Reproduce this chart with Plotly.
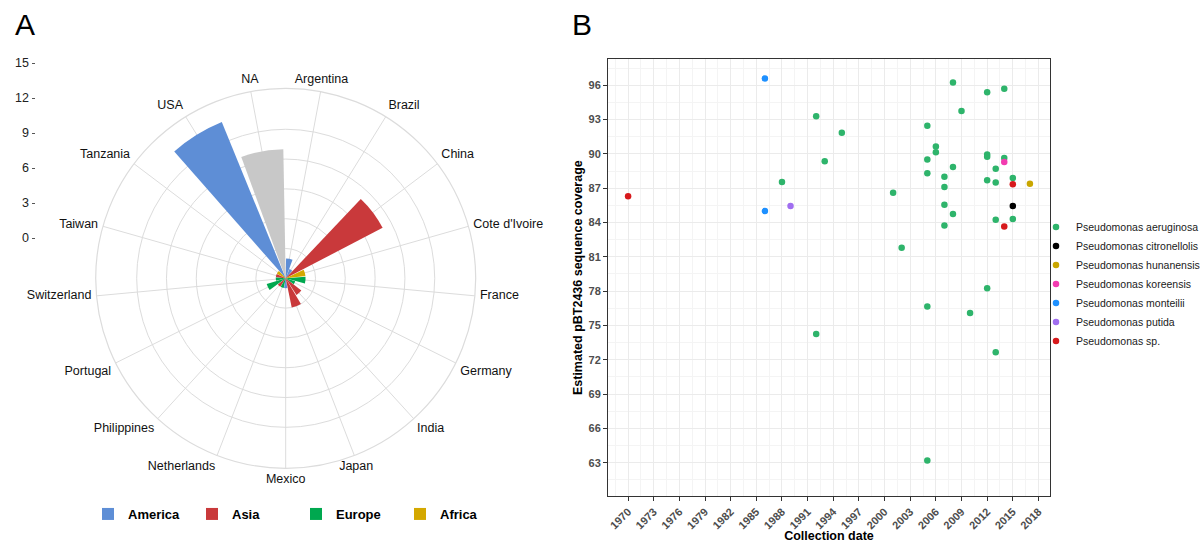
import math
import plotly.graph_objects as go

# ---------------- Panel A data ----------------
countries = ["Argentina", "Brazil", "China", "Cote d'Ivoire", "France", "Germany",
             "India", "Japan", "Mexico", "Netherlands", "Philippines", "Portugal",
             "Switzerland", "Taiwan", "Tanzania", "USA", "NA"]
counts = [2, 1, 11, 2, 2, 1, 2, 3, 1, 1, 1, 2, 1, 1, 1, 17, 13]
continent = ["America", "America", "Asia", "Africa", "Europe", "Europe",
             "Asia", "Asia", "America", "Europe", "Asia", "Europe",
             "Europe", "Asia", "Africa", "America", "NA"]
continent_order = ["America", "Asia", "Europe", "Africa", "NA"]
continent_colors = {"America": "#5E8ED6", "Asia": "#C9393B", "Europe": "#00A84F",
                    "Africa": "#D4A800", "NA": "#C8C8C8"}
r_ticks = [0, 3, 6, 9, 12, 15]

# ---------------- Panel B data ----------------
species_order = ["Pseudomonas aeruginosa", "Pseudomonas citronellolis",
                 "Pseudomonas hunanensis", "Pseudomonas koreensis",
                 "Pseudomonas monteilii", "Pseudomonas putida", "Pseudomonas sp."]
species_colors = ["#2EB46B", "#000000", "#C9A600", "#F23BB0", "#1E90FF", "#A06EF0", "#D7191C"]

aeru_year = [1988, 1992, 1992, 1993, 1995, 2001, 2002, 2005, 2005, 2005, 2005, 2005,
             2006, 2006, 2007, 2007, 2007, 2007, 2008, 2008, 2008, 2009, 2010,
             2012, 2012, 2012, 2012, 2012, 2013, 2013, 2013, 2013, 2014, 2014, 2015, 2015]
aeru_cov = [87.55, 93.3, 74.25, 89.35, 91.85, 86.6, 81.8, 92.45, 89.5, 88.3, 76.65, 63.2,
            90.65, 90.15, 88.0, 87.1, 85.55, 83.75, 96.25, 88.85, 84.75, 93.75, 76.1,
            95.4, 89.95, 89.75, 87.7, 78.25, 88.7, 87.5, 84.25, 72.65, 95.7, 89.65, 87.9, 84.3]
citr_year = [2015]
citr_cov = [85.45]
huna_year = [2017]
huna_cov = [87.4]
kore_year = [2014]
kore_cov = [89.3]
mont_year = [1986, 1986]
mont_cov = [96.6, 85.0]
puti_year = [1989]
puti_cov = [85.45]
sp_year = [1970, 2014, 2015]
sp_cov = [86.3, 83.65, 87.35]

species_years = [aeru_year, citr_year, huna_year, kore_year, mont_year, puti_year, sp_year]
species_cov = [aeru_cov, citr_cov, huna_cov, kore_cov, mont_cov, puti_cov, sp_cov]

x_ticks = list(range(1970, 2019, 3))
y_ticks = list(range(63, 97, 3))

FONT = "Liberation Sans, Arial, sans-serif"
W, H = 1204, 543

r_max = max(counts)
r_outer = r_max * 0.45 / 0.4      # ggplot-style outer ring
r_label = r_max * 0.462 / 0.4     # country label ring
label_scale = 1.21                 # label layer is larger than the bar layer


def label_position(i, n):
    """ggplot-like justification of a theta label from its angle."""
    a = math.radians((i + 0.5) * 360 / n)
    s, c = math.sin(a), math.cos(a)
    v = "top" if c > 0.38 else ("bottom" if c < -0.38 else "middle")
    h = "right" if s > 0.4 else ("left" if s < -0.35 else "center")
    return f"{v} {h}"


fig = go.Figure()

# ---- polar bars (one trace per continent) ----
for cont in continent_order:
    th = [c for c, k in zip(countries, continent) if k == cont]
    rr = [v for v, k in zip(counts, continent) if k == cont]
    fig.add_trace(go.Barpolar(
        theta=th, r=rr, width=0.9, name=cont,
        marker=dict(color=continent_colors[cont], line=dict(width=0)),
        showlegend=(cont != "NA"), legend="legend2", subplot="polar",
        hoverinfo="skip"))

# ---- country labels around the ring (separate, larger polar layer) ----
fig.add_trace(go.Scatterpolar(
    theta=countries, r=[r_label] * len(countries), mode="text", text=countries,
    textposition=[label_position(i, len(countries)) for i in range(len(countries))],
    textfont=dict(size=12.5, color="#111111", family=FONT),
    cliponaxis=False, showlegend=False, hoverinfo="skip", subplot="polar2"))

# ---- scatter ----
for name, col, xs, ys in zip(species_order, species_colors, species_years, species_cov):
    fig.add_trace(go.Scatter(
        x=xs, y=ys, mode="markers", name=name,
        marker=dict(color=col, size=6.5, line=dict(width=0)),
        xaxis="x2", yaxis="y2", legend="legend"))

# ---- invisible trace for left radial scale ----
fig.add_trace(go.Scatter(x=[0], y=[0], mode="markers", marker=dict(opacity=0),
                         showlegend=False, xaxis="x3", yaxis="y3", hoverinfo="skip"))

cx, cy, R = 285.7, 278.3, 190.0
R2 = R * label_scale


def dom(rad):
    return dict(x=[(cx - rad) / W, (cx + rad) / W], y=[1 - (cy + rad) / H, 1 - (cy - rad) / H])


grid = "#DCDCDC"
rot = 90 - 360 / len(countries) / 2

# scatter panel pixel box
px0, px1, py0, py1 = 608, 1050, 59.3, 496

fig.update_layout(
    width=W, height=H, template="none",
    margin=dict(l=0, r=0, t=0, b=0, autoexpand=False),
    paper_bgcolor="white", plot_bgcolor="white",
    font=dict(family=FONT, color="#1A1A1A"),
    polar=dict(
        domain=dom(R),
        bgcolor="white", barmode="overlay", hole=0,
        radialaxis=dict(range=[0, r_outer], tickvals=r_ticks[1:],
                        showticklabels=False, ticks="", showline=False,
                        gridcolor=grid, gridwidth=1.2),
        angularaxis=dict(type="category", categoryarray=countries, rotation=rot,
                         direction="clockwise", ticks="", showticklabels=False,
                         showline=True, linecolor=grid, linewidth=1.2,
                         gridcolor=grid, gridwidth=1.2),
    ),
    polar2=dict(
        domain=dom(R2),
        bgcolor="rgba(0,0,0,0)", hole=0,
        radialaxis=dict(range=[0, r_outer * label_scale], visible=False, showgrid=False),
        angularaxis=dict(type="category", categoryarray=countries, rotation=rot,
                         direction="clockwise", visible=False, showgrid=False,
                         showline=False, ticks="", showticklabels=False),
    ),
    xaxis2=dict(domain=[px0 / W, px1 / W], range=[1967.65, 2019.35], anchor="y2",
                tickvals=x_ticks, tickangle=-45, ticks="outside", ticklen=4,
                tickcolor="#333333", tickfont=dict(size=11, color="#4D4D4D", weight="bold"),
                showgrid=True, gridcolor="#EBEBEB", gridwidth=1,
                minor=dict(dtick=1.5, tick0=1970, showgrid=True, gridcolor="#F4F4F4", gridwidth=0.6),
                showline=True, mirror=True, linecolor="#333333", linewidth=1,
                zeroline=False, automargin=False,
                title=dict(text="Collection date", standoff=6,
                           font=dict(size=12.5, color="#000000", weight="bold"))),
    yaxis2=dict(domain=[1 - py1 / H, 1 - py0 / H], range=[60.09, 98.27], anchor="x2",
                tickvals=y_ticks, ticks="outside", ticklen=4, tickcolor="#333333",
                tickfont=dict(size=11, color="#4D4D4D", weight="bold"),
                showgrid=True, gridcolor="#EBEBEB", gridwidth=1,
                minor=dict(dtick=1.5, tick0=63, showgrid=True, gridcolor="#F4F4F4", gridwidth=0.6),
                showline=True, mirror=True, linecolor="#333333", linewidth=1,
                zeroline=False, automargin=False,
                title=dict(text="Estimated pBT2436 sequence coverage", standoff=3,
                           font=dict(size=12.5, color="#000000", weight="bold"))),
    xaxis3=dict(domain=[35.5 / W, 40 / W], visible=False, range=[-1, 1], anchor="y3"),
    yaxis3=dict(domain=[1 - 260 / H, 1 - 40 / H], range=[-1.886, 16.971], anchor="x3",
                tickvals=r_ticks, ticks="outside", ticklen=3, tickcolor="#555555",
                showline=False, showgrid=False, zeroline=False, automargin=False,
                tickfont=dict(size=12.5, color="#222222")),
    legend=dict(x=1036 / W, y=1 - 284 / H, xanchor="left", yanchor="middle",
                font=dict(size=10.5, color="#1A1A1A"), bgcolor="rgba(0,0,0,0)",
                itemclick=False, tracegroupgap=0),
    legend2=dict(orientation="h", x=88 / W, y=1 - 514 / H, xanchor="left", yanchor="middle",
                 font=dict(size=13, color="#000000", weight="bold"),
                 entrywidth=59, entrywidthmode="pixels",
                 bgcolor="rgba(0,0,0,0)", itemclick=False),
    annotations=[
        dict(text="A", x=25 / W, y=1 - 25 / H, xref="paper", yref="paper",
             xanchor="center", yanchor="middle",
             showarrow=False, font=dict(size=30, color="#000000", family=FONT)),
        dict(text="B", x=582 / W, y=1 - 25 / H, xref="paper", yref="paper",
             xanchor="center", yanchor="middle",
             showarrow=False, font=dict(size=30, color="#000000", family=FONT)),
    ],
)

fig.write_html("out.html", config={"displayModeBar": False},
               post_script="document.body.style.margin='0';")
